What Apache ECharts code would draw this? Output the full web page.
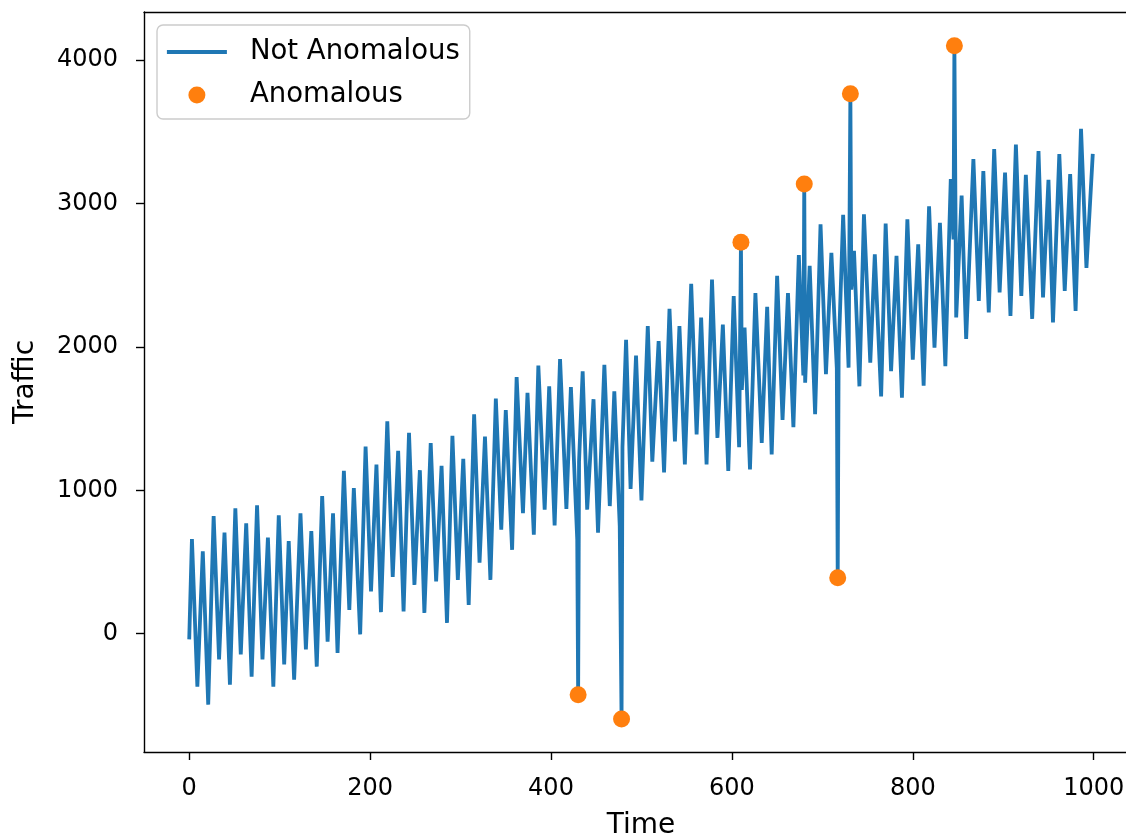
<!DOCTYPE html>
<html>
<head>
<meta charset="utf-8">
<script src="https://cdn.jsdelivr.net/npm/echarts@6/dist/echarts.min.js"></script>
<style>
html,body{margin:0;padding:0;background:#fff;}
#chart{width:1126px;height:836px;}
</style>
</head>
<body>
<div id="chart"></div>
<script>
// Vertices (peaks/troughs) of the traffic line
const timeSteps = [0,3,9,15,21,27,33,39,45,51,
57,63,69,75,81,87,93,99,105,110,
116,123,129,135,141,147,153,159,164,171,
177,182,189,195,201,207,212,219,225,231,
237,243,249,255,260,267,273,279,285,291,
297,303,309,315,321,327,333,339,345,350,
357,362,369,374,381,386,393,398,404,410,
417,422,429,430,431,435,440,447,452,459,
465,470,476,478,479,483,488,494,500,507,
512,519,525,531,537,542,548,555,561,566,
572,578,584,590,596,602,608,610,611,614,
620,626,633,639,644,650,656,662,668,674,
679,680,681,686,692,698,704,710,716,717,
718,723,729,731,732,735,741,746,753,758,
765,770,776,782,788,794,800,806,812,818,
824,830,836,842,845,846,848,854,859,867,
873,878,884,890,896,902,908,914,920,925,
932,939,944,950,955,962,968,974,980,986,
992,999];
const traffic = [-40,660,-370,575,-495,820,-180,705,-355,875,
-145,770,-300,895,-180,670,-370,825,-215,645,
-320,840,-110,715,-230,960,-55,840,-135,1135,
165,1015,-5,1305,295,1180,150,1480,395,1275,
155,1400,340,1140,145,1330,365,1170,75,1380,
375,1220,200,1530,495,1375,375,1640,725,1560,
585,1790,840,1680,690,1870,865,1725,755,1915,
870,1720,655,-425,1200,1830,865,1635,705,1875,
890,1690,750,-595,1300,2050,1010,1940,930,2145,
1200,2040,1125,2265,1340,2145,1180,2440,1390,2205,
1180,2470,1365,2155,1135,2355,1300,2730,1700,2135,
1145,2375,1330,2280,1250,2495,1490,2375,1440,2640,
1800,3135,1750,2565,1530,2855,1810,2655,1850,390,
1950,2920,1855,3765,2400,2670,1725,2925,1890,2645,
1655,2860,1830,2635,1645,2890,1910,2715,1730,2980,
1995,2865,1865,3170,2750,4100,2205,3055,2055,3310,
2320,3225,2240,3380,2380,3215,2215,3410,2355,3200,
2195,3365,2345,3165,2170,3345,2390,3205,2250,3520,
2550,3345];

const anomalyTime = [430, 478, 610, 680, 717, 731, 846];
const anomalyTraffic = [-425, -595, 2730, 3135, 390, 3765, 4100];

const xTickValues = [0, 200, 400, 600, 800, 1000];
const yTickValues = [0, 1000, 2000, 3000, 4000];

const seriesNames = ['Not Anomalous', 'Anomalous'];
const axisNames = ['Time', 'Traffic'];

const FONT = 'DejaVu Sans';
const lineData = timeSteps.map((t, i) => [t, traffic[i]]);
const anomalyData = anomalyTime.map((t, i) => [t, anomalyTraffic[i]]);
const plain = v => String(v);
const X_MIN = -50, X_MAX = 1049, Y_MIN = -825, Y_MAX = 4335;
const spine = {show: true, onZero: false, lineStyle: {color: '#000', width: 1.4}};

const chart = echarts.init(document.getElementById('chart'), null, {renderer: 'canvas'});
chart.setOption({
  animation: false,
  backgroundColor: '#ffffff',
  grid: {
    left: 144, top: 12, width: 994, height: 740,
    outerBoundsMode: 'none',
    show: false,
    containLabel: false
  },
  xAxis: [{
    type: 'value', min: X_MIN, max: X_MAX, position: 'bottom',
    name: axisNames[0], nameLocation: 'middle', nameGap: 60,
    nameTextStyle: {fontFamily: FONT, fontSize: 28, color: '#000'},
    axisLine: spine,
    axisTick: {show: true, customValues: xTickValues, length: 8, lineStyle: {color: '#000', width: 1.4}},
    axisLabel: {customValues: xTickValues, formatter: plain, fontFamily: FONT, fontSize: 24, color: '#000', margin: 25},
    splitLine: {show: false}
  }, {
    type: 'value', min: X_MIN, max: X_MAX, position: 'top',
    axisLine: spine, axisTick: {show: false}, axisLabel: {show: false}, splitLine: {show: false}
  }],
  yAxis: [{
    type: 'value', min: Y_MIN, max: Y_MAX, position: 'left',
    name: axisNames[1], nameLocation: 'middle', nameGap: 104,
    nameTextStyle: {fontFamily: FONT, fontSize: 28, color: '#000'},
    axisLine: spine,
    axisTick: {show: true, customValues: yTickValues, length: 8, lineStyle: {color: '#000', width: 1.4}},
    axisLabel: {customValues: yTickValues, formatter: plain, fontFamily: FONT, fontSize: 24, color: '#000', margin: 26},
    splitLine: {show: false}
  }, {
    type: 'value', min: Y_MIN, max: Y_MAX, position: 'right',
    axisLine: spine, axisTick: {show: false}, axisLabel: {show: false}, splitLine: {show: false}
  }],
  legend: {
    orient: 'vertical', left: 157, top: 25,
    padding: [13, 10, 10, 8],
    itemWidth: 60, itemHeight: 17, itemGap: 15,
    backgroundColor: 'rgba(255,255,255,0.8)',
    borderColor: '#cccccc', borderWidth: 1.4, borderRadius: 6,
    lineStyle: {width: 3.8},
    textStyle: {fontFamily: FONT, fontSize: 27.5, color: '#000', padding: [0, 0, 0, 18]},
    data: [
      {name: seriesNames[0], itemStyle: {opacity: 0}},
      {name: seriesNames[1], icon: 'circle'}
    ]
  },
  series: [
    {
      name: seriesNames[0], type: 'line', data: lineData,
      xAxisIndex: 0, yAxisIndex: 0,
      symbol: 'none', showSymbol: false,
      lineStyle: {color: '#1f77b4', width: 3.8},
      itemStyle: {color: '#1f77b4'},
      z: 2
    },
    {
      name: seriesNames[1], type: 'scatter', data: anomalyData,
      xAxisIndex: 0, yAxisIndex: 0,
      symbol: 'circle', symbolSize: 17,
      itemStyle: {color: '#ff7f0e', opacity: 1},
      z: 3
    }
  ]
});
</script>
</body>
</html>
